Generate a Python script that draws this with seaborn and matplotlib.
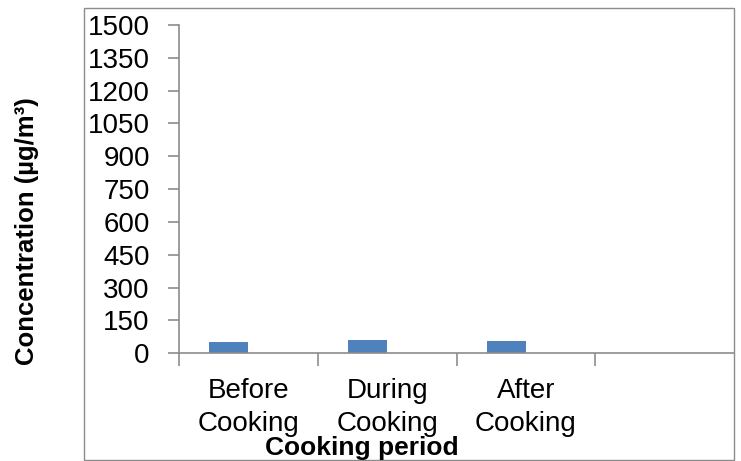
import matplotlib
matplotlib.use("Agg")
import matplotlib.pyplot as plt
from matplotlib.patches import Rectangle
import pandas as pd
import seaborn as sns

# Concentration measured around a cooking event
periods = ["Before\nCooking", "During\nCooking", "After\nCooking", " "]
concentration = [52, 62, 56]
companion = [0, 0, 0]
series_names = ["Concentration", "Companion"]
y_ticks = list(range(0, 1501, 150))

df = pd.DataFrame({
    "period": periods[:3] * 2,
    "conc": concentration + companion,
    "series": [series_names[0]] * 3 + [series_names[1]] * 3,
})

sns.set_theme(style="white")
plt.rcParams["font.family"] = ["Liberation Sans", "DejaVu Sans"]
plt.rcParams["text.color"] = "black"

W, H = 741, 461
fig = plt.figure(figsize=(W / 100, H / 100), dpi=100)

GRAY = "#8c8c8c"

# outer chart-area frame
fig.patches.append(Rectangle((84 / W, 1 - 460 / H), (734 - 84) / W, (460 - 8) / H,
                             transform=fig.transFigure, fill=False,
                             edgecolor=GRAY, linewidth=1.0))

left, right, top, bottom = 179, 734, 25, 353.3
ax = fig.add_axes([left / W, 1 - bottom / H, (right - left) / W, (bottom - top) / H])

sns.barplot(data=df, x="period", y="conc", hue="series", order=periods,
            hue_order=series_names, palette=["#4F81BD", "#C0504D"],
            width=0.567, linewidth=0, saturation=1, legend=False, ax=ax)

ax.set_xlim(-0.5, 3.5)
ax.set_ylim(0, 1500)
ax.set_yticks(y_ticks)
ax.set_yticklabels([str(v) for v in y_ticks], fontsize=20, color="black")
ax.set_xticks(range(len(periods)))
ax.set_xticklabels(periods, fontsize=20, linespacing=1.32, color="black")
ax.set_xticks([-0.5, 0.5, 1.5, 2.5], minor=True)
ax.tick_params(axis="x", which="major", bottom=True, length=0, pad=18)
ax.tick_params(axis="x", which="minor", bottom=True, length=9, width=1.2,
               color=GRAY, direction="out")
ax.tick_params(axis="y", which="major", left=True, length=8, width=1.2, color=GRAY,
               direction="out", pad=13)
ax.set_xlabel("")
ax.set_ylabel("")

for side in ["top", "right"]:
    ax.spines[side].set_visible(False)
for side in ["left", "bottom"]:
    ax.spines[side].set_color(GRAY)
    ax.spines[side].set_linewidth(1.2)

fig.text(362 / W, 1 - 448 / H, "Cooking period", ha="center", va="center",
         fontsize=19, fontweight="bold", color="black")
fig.text(27 / W, 1 - 231 / H, "Concentration (µg/m³)", ha="center", va="center",
         rotation=90, fontsize=18.5, fontweight="bold", color="black")

fig.savefig("out.png", dpi=100)
